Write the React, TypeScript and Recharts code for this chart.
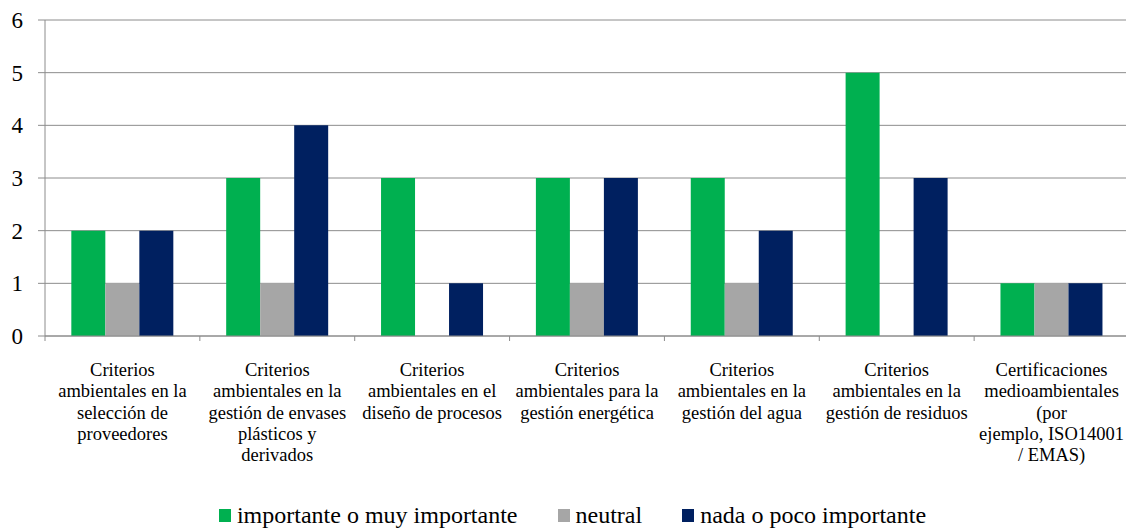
import { BarChart, Bar, XAxis, YAxis, CartesianGrid, Legend } from 'recharts';

const FONT = 'Liberation Serif, Times New Roman, serif';
const AXIS = '#8c8c8c';

// category labels, line breaks as in the original
const categories = [
  'Criterios\nambientales en la\nselección de\nproveedores',
  'Criterios\nambientales en la\ngestión de envases\nplásticos y\nderivados',
  'Criterios\nambientales en el\ndiseño de procesos',
  'Criterios\nambientales para la\ngestión energética',
  'Criterios\nambientales en la\ngestión del agua',
  'Criterios\nambientales en la\ngestión de residuos',
  'Certificaciones\nmedioambientales\n(por\nejemplo, ISO14001\n/ EMAS)',
];

const important = [2, 3, 3, 3, 3, 5, 1];
const neutral = [1, 1, 0, 1, 1, 0, 1];
const notImportant = [2, 4, 1, 3, 2, 3, 1];
const yTicks = [0, 1, 2, 3, 4, 5, 6];

const series = [
  { key: 'importante', name: 'importante o muy importante', color: '#00B050' },
  { key: 'neutral', name: 'neutral', color: '#A6A6A6' },
  { key: 'nada', name: 'nada o poco importante', color: '#002060' },
];

const data = categories.map((name, i) => ({
  name,
  importante: important[i],
  neutral: neutral[i],
  nada: notImportant[i],
}));

function CategoryTick(props: any) {
  const { x, y, payload, index } = props;
  const half = payload.offset ?? 0;
  const lines = String(payload.value).split('\n');
  return (
    <g>
      <line x1={x - half} x2={x - half} y1={y} y2={y + 5} stroke={AXIS} />
      {index === categories.length - 1 && (
        <line x1={x + half} x2={x + half} y1={y} y2={y + 5} stroke={AXIS} />
      )}
      <text x={x} y={y + 40} textAnchor="middle" fontSize={18.5} fill="#000" fontFamily={FONT}>
        {lines.map((l, i) => (
          <tspan key={i} x={x} dy={i === 0 ? 0 : 21.3}>
            {l}
          </tspan>
        ))}
      </text>
    </g>
  );
}

function ValueTick(props: any) {
  const { x, y, payload } = props;
  return (
    <text x={x} y={y} dy={8} textAnchor="end" fontSize={23} fill="#000" fontFamily={FONT}>
      {payload.value}
    </text>
  );
}

function LegendContent() {
  return (
    <div
      style={{
        display: 'flex',
        justifyContent: 'center',
        alignItems: 'center',
        height: 36,
        paddingTop: 8,
        paddingLeft: 16,
        boxSizing: 'border-box',
        fontFamily: FONT,
        fontSize: 24,
        color: '#000',
      }}
    >
      {series.map((s, i) => (
        <div key={s.key} style={{ display: 'flex', alignItems: 'center', marginLeft: i === 0 ? 0 : 40 }}>
          <span style={{ display: 'inline-block', width: 12, height: 13, background: s.color, marginRight: 6 }} />
          <span style={{ lineHeight: '28px', whiteSpace: 'nowrap', fontFamily: FONT, fontSize: 24 }}>{s.name}</span>
        </div>
      ))}
    </div>
  );
}

export default function App() {
  return (
    <div style={{ position: 'absolute', left: 0, top: 0, width: 1126, height: 529, overflow: 'hidden', background: '#fff', fontFamily: FONT }}>
      <BarChart
        width={1129}
        height={529}
        data={data}
        margin={{ top: 20, right: 0, bottom: 0, left: 0 }}
        barCategoryGap="17%"
        barGap={0}
      >
        <CartesianGrid vertical={false} stroke={AXIS} xAxisId="cat" />
        <XAxis
          xAxisId="cat"
          dataKey="name"
          height={157}
          interval={0}
          stroke={AXIS}
          tickLine={false}
          tickSize={0}
          tickMargin={0}
          tick={<CategoryTick />}
        />
        <YAxis
          width={45}
          domain={[0, 6]}
          ticks={yTicks}
          interval={0}
          stroke={AXIS}
          tickSize={7}
          tickMargin={15}
          tick={<ValueTick />}
        />
        <Legend verticalAlign="bottom" height={36} content={() => <LegendContent />} />
        {series.map((s) => (
          <Bar key={s.key} xAxisId="cat" dataKey={s.key} name={s.name} fill={s.color} isAnimationActive={false} />
        ))}
      </BarChart>
    </div>
  );
}
